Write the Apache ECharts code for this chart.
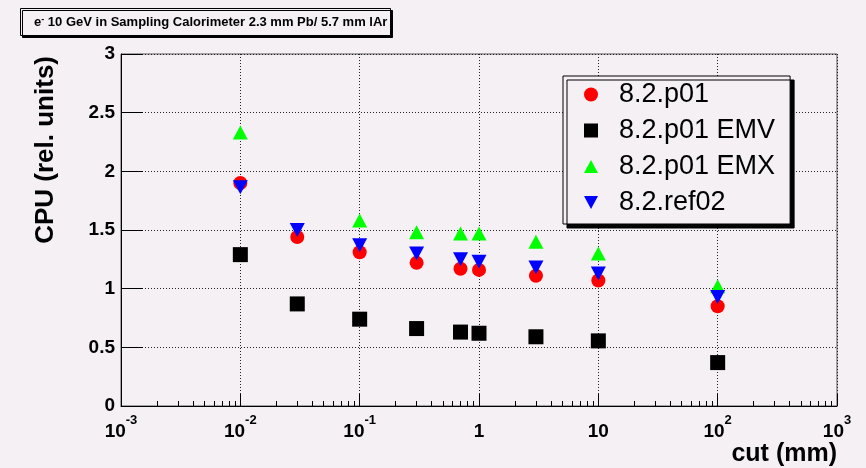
<!DOCTYPE html>
<html>
<head>
<meta charset="utf-8">
<script src="https://cdn.jsdelivr.net/npm/echarts@6/dist/echarts.min.js"></script>
<style>
html,body{margin:0;padding:0;background:#f4f0f4;}
#chart{width:866px;height:468px;}
</style>
</head>
<body>
<div id="chart"></div>
<script>
// ---- data ----
const cuts = [0.01, 0.03, 0.1, 0.3, 0.7, 1, 3, 10, 100];
const p01 = [1.90, 1.44, 1.31, 1.22, 1.17, 1.16, 1.11, 1.07, 0.85];
const p01EMV = [1.29, 0.87, 0.74, 0.66, 0.63, 0.62, 0.59, 0.555, 0.37];
const p01EMX = [2.33, null, 1.58, 1.48, 1.47, 1.47, 1.40, 1.30, 1.02];
const ref02 = [1.865, 1.50, 1.37, 1.30, 1.25, 1.23, 1.18, 1.13, 0.93];
const seriesNames = ['8.2.p01', '8.2.p01 EMV', '8.2.p01 EMX', '8.2.ref02'];
const yTicks = [0, 0.5, 1, 1.5, 2, 2.5, 3];
const xMinorTicks = [];
for (let e = -3; e < 3; e++) {
  for (let m = 2; m <= 9; m++) xMinorTicks.push(m * Math.pow(10, e));
}

const pairs = arr => cuts.map((c, i) => [c, arr[i]]).filter(p => p[1] !== null);

const FONT = 'Liberation Sans, Arial, sans-serif';
const BG = '#f4f0f4';

const chart = echarts.init(document.getElementById('chart'), null, {renderer: 'canvas'});
chart.setOption({
  backgroundColor: BG,
  animation: false,
  title: {
    text: '{n|e}{s|-}{n| 10 GeV in Sampling Calorimeter 2.3 mm Pb/ 5.7 mm lAr}',
    left: 20, top: 8,
    padding: [7, 3, 7, 14],
    borderColor: '#000', borderWidth: 1,
    backgroundColor: BG,
    shadowColor: '#000', shadowOffsetX: 2, shadowOffsetY: 2, shadowBlur: 0,
    textStyle: {
      fontFamily: FONT,
      rich: {
        n: {fontSize: 13, fontWeight: 'bold', color: '#000', fontFamily: FONT, lineHeight: 14},
        s: {fontSize: 9, fontWeight: 'bold', color: '#000', fontFamily: FONT, verticalAlign: 'top', lineHeight: 9}
      }
    }
  },
  legend: {
    orient: 'vertical',
    left: 563, top: 76,
    padding: [5, 15, 8, 21],
    itemWidth: 14, itemHeight: 14, itemGap: 9,
    borderColor: '#000', borderWidth: 1,
    backgroundColor: BG,
    shadowColor: '#000', shadowOffsetX: 4, shadowOffsetY: 4, shadowBlur: 0,
    textStyle: {fontFamily: FONT, fontSize: 27, color: '#000', padding: [0, 0, 0, 16]},
    data: [
      {name: seriesNames[0], icon: 'circle'},
      {name: seriesNames[1], icon: 'rect'},
      {name: seriesNames[2], icon: 'path://M7,0 L14,13 L0,13 Z'},
      {name: seriesNames[3], icon: 'path://M0,0 L14,0 L7,13 Z'}
    ]
  },
  grid: {
    left: 121, right: 29, top: 54, bottom: 62,
    show: true, borderColor: '#555', borderWidth: 1, backgroundColor: 'transparent'
  },
  xAxis: [{
    type: 'log', logBase: 10, min: 0.001, max: 1000, interval: 1,
    name: 'cut (mm)', nameLocation: 'end', nameGap: 0,
    nameTextStyle: {fontFamily: FONT, fontSize: 25, fontWeight: 'bold', color: '#000',
      align: 'right', verticalAlign: 'top', padding: [36, 0, 0, 0]},
    axisLine: {show: true, lineStyle: {color: '#000', width: 1}},
    axisTick: {show: true, inside: true, length: 12, lineStyle: {color: '#000'}},
    splitLine: {show: true, lineStyle: {color: '#222', type: [1, 2], width: 1}},
    axisLabel: {
      margin: 8,
      formatter: v => {
        const e = Math.round(Math.log10(v));
        if (e === 0) return '{b|1}';
        if (e === 1) return '{b|10}';
        return '{b|10}{s|' + e + '}';
      },
      rich: {
        b: {fontFamily: FONT, fontSize: 19, fontWeight: 'bold', color: '#000', lineHeight: 27, verticalAlign: 'bottom'},
        s: {fontFamily: FONT, fontSize: 13, fontWeight: 'bold', color: '#000', lineHeight: 13, verticalAlign: 'top'}
      }
    }
  }, {
    type: 'log', logBase: 10, min: 0.001, max: 1000, position: 'bottom',
    axisLine: {show: false},
    axisLabel: {show: false},
    splitLine: {show: false},
    axisTick: {show: true, inside: true, length: 5, customValues: xMinorTicks, lineStyle: {color: '#000'}}
  }],
  yAxis: {
    type: 'value', min: yTicks[0], max: yTicks[yTicks.length - 1], interval: 0.5,
    name: 'CPU (rel. units)', nameLocation: 'end', nameGap: -2, nameRotate: 90,
    nameTextStyle: {fontFamily: FONT, fontSize: 26, fontWeight: 'bold', color: '#000',
      align: 'right', verticalAlign: 'bottom', padding: [0, 0, 62, 0]},
    axisLine: {show: true, lineStyle: {color: '#000', width: 1}},
    axisTick: {show: true, inside: true, length: 22, lineStyle: {color: '#000'}},
    splitLine: {show: true, lineStyle: {color: '#222', type: [1, 2], width: 1}},
    axisLabel: {margin: 6, fontFamily: FONT, fontSize: 19, fontWeight: 'bold', color: '#000',
      formatter: v => String(v)}
  },
  series: [
    {name: seriesNames[0], type: 'scatter', data: pairs(p01), symbol: 'circle', symbolSize: 14,
     itemStyle: {color: '#ff0000', opacity: 1}},
    {name: seriesNames[1], type: 'scatter', data: pairs(p01EMV), symbol: 'rect', symbolSize: 15,
     itemStyle: {color: '#000000', opacity: 1}},
    {name: seriesNames[2], type: 'scatter', data: pairs(p01EMX), symbol: 'triangle', symbolSize: [15, 14],
     itemStyle: {color: '#00ff00', opacity: 1}},
    {name: seriesNames[3], type: 'scatter', data: pairs(ref02), symbol: 'triangle', symbolSize: [15, 14], symbolRotate: 180,
     itemStyle: {color: '#0000ff', opacity: 1}}
  ]
});
</script>
</body>
</html>
